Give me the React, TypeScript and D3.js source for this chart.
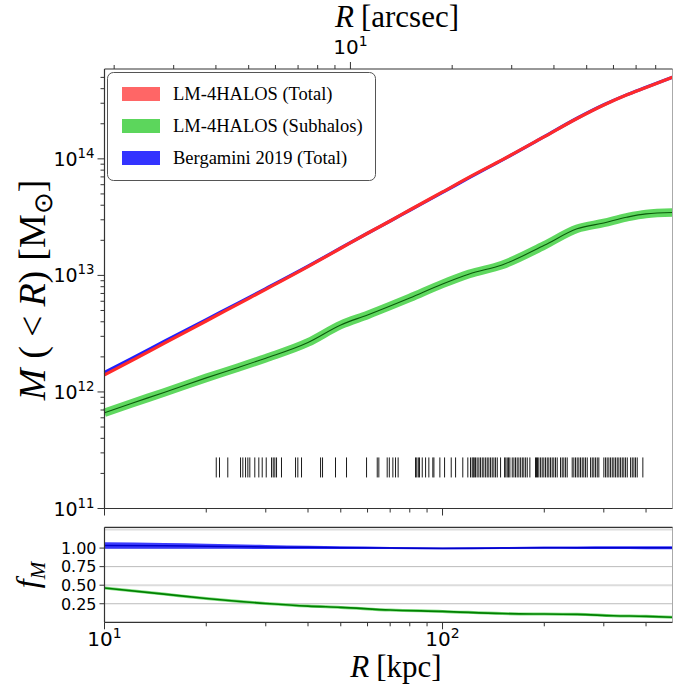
import React from 'react';
import * as d3 from 'd3';

// ---------- data ----------
const R_KPC = [10, 12, 15, 20, 25, 30, 40, 50, 60, 70, 80, 100, 120, 150, 200, 250, 300, 350, 400, 479];
const M_TOTAL = [1.40e12, 1.85e12, 2.61e12, 4.06e12, 5.73e12, 7.59e12, 1.19e13, 1.71e13, 2.30e13, 2.93e13, 3.64e13, 5.20e13, 6.97e13, 9.80e13, 1.55e14, 2.22e14, 2.90e14, 3.53e14, 4.10e14, 5.02e14];
const M_BERGAMINI = [1.47e12, 1.93e12, 2.71e12, 4.18e12, 5.84e12, 7.70e12, 1.20e13, 1.72e13, 2.30e13, 2.93e13, 3.62e13, 5.15e13, 6.90e13, 9.75e13, 1.55e14, 2.23e14, 2.91e14, 3.54e14, 4.11e14, 5.02e14];
const M_SUB = [6.64e11, 7.96e11, 9.91e11, 1.32e12, 1.63e12, 1.95e12, 2.66e12, 3.76e12, 4.58e12, 5.47e12, 6.41e12, 8.45e12, 1.03e13, 1.23e13, 1.81e13, 2.51e13, 2.82e13, 3.15e13, 3.37e13, 3.46e13];

const F_R = [10, 15, 20, 30, 40, 50, 70, 100, 150, 200, 250, 320, 400, 479];
const F_BERG = [1.035, 1.03, 1.025, 1.015, 1.01, 1.005, 1.0, 0.995, 1.0, 1.005, 1.005, 1.005, 1.005, 1.005];
const F_BERG_ERR = [0.045, 0.04, 0.035, 0.028, 0.022, 0.018, 0.014, 0.012, 0.013, 0.015, 0.017, 0.018, 0.02, 0.02];
const F_SUB = [0.463, 0.38, 0.321, 0.254, 0.218, 0.201, 0.165, 0.147, 0.118, 0.111, 0.107, 0.088, 0.08, 0.067];

const RUG_R = [21.41, 21.89, 23.16, 25.26, 25.66, 26.14, 26.55, 26.91, 27.84, 28.61, 29.28, 30.09, 31.2, 31.56, 31.91, 32.28, 33.39, 36.74, 37.32, 38.27, 43.57, 44.16, 48.24, 52.0, 59.6, 64.1, 64.8, 68.6, 69.6, 71.3, 72.6, 73.9, 83.2, 83.9, 84.8, 85.5, 87.1, 89.1, 91.1, 93.6,
  94.3, 98.2, 101.4, 106.1, 109.3, 114.8, 118.8, 121.0, 122.4, 123.3, 124.1, 125.2, 126.6, 128.1, 129.5, 131.1, 132.5, 134.1, 135.6, 137.1, 138.7, 140.3, 141.9, 143.5, 145.2, 148.5, 152.6, 153.9, 155.4, 156.8, 158.2, 160.8, 162.6, 164.4, 166.3, 168.2, 170.2, 172.2, 174.0, 176.1, 178.1, 181.3, 188.4, 189.7, 191.0, 192.7, 195.0, 197.2, 199.4, 201.7, 204.1, 206.3, 208.7, 211.1, 213.4, 215.9, 218.4, 223.4, 226.0, 228.5, 231.2, 233.8, 241.9, 244.6, 247.4, 250.3, 253.1, 256.0, 259.0, 261.8, 264.9, 268.0, 274.1, 277.3, 280.3, 283.6, 286.9, 290.0, 300.1, 303.6, 307.0, 310.5, 314.1, 317.8, 321.3, 325.0, 328.8, 332.4, 336.3, 340.2, 343.9, 347.9, 352.0, 360.0, 364.2, 368.3, 372.4, 376.7, 391.4];
const RUG_M = 2.25e11;

const F_GRID = [0.25, 0.5, 0.75, 1.0, 1.25];
const F_TICKS = [0.25, 0.5, 0.75, 1.0];
const KPC_PER_ARCSEC = 5.34;

const LEGEND = [
  { label: 'LM-4HALOS (Total)', color: '#ff6666' },
  { label: 'LM-4HALOS (Subhalos)', color: '#5cd65c' },
  { label: 'Bergamini 2019 (Total)', color: '#3333ff' },
];

// ---------- layout ----------
const W = 673, H = 684;
const L = 104.5, RGT = 672.5;
const T1 = 69, B1 = 508.5;
const T2 = 527.3, B2 = 622.3;

const TICK_FONT = 'DejaVu Sans, sans-serif';
const SERIF = 'Liberation Serif, Times New Roman, serif';

export default function App() {
  const x = d3.scaleLog().domain([10, 479]).range([L, RGT]);
  const xTop = d3.scaleLog().domain([10 / KPC_PER_ARCSEC, 479 / KPC_PER_ARCSEC]).range([L, RGT]);
  const y = d3.scaleLog().domain([1e11, 5.9e14]).range([B1, T1]);
  const yf = d3.scaleLinear().domain([0, 1.28]).range([B2, T2]);

  const isMajor = (v: number) => Math.abs(Math.log10(v) - Math.round(Math.log10(v))) < 1e-9;

  const lineMain = (arr: number[]) =>
    d3.line<number>().x((_, i) => x(R_KPC[i])).y((d) => y(d)).curve(d3.curveMonotoneX)(arr) || '';
  const lineF = (arr: number[]) =>
    d3.line<number>().x((_, i) => x(F_R[i])).y((d) => yf(d)).curve(d3.curveMonotoneX)(arr) || '';
  const areaBerg = d3.area<number>()
    .x((_, i) => x(F_R[i]))
    .y0((d, i) => yf(d - F_BERG_ERR[i]))
    .y1((d, i) => yf(d + F_BERG_ERR[i]))
    .curve(d3.curveMonotoneX)(F_BERG) || '';

  const xTicks = x.ticks();
  const yTicks = y.ticks();
  const topTicks = xTop.ticks();
  const axisColor = '#333';

  const supLabel = (base: string, exp: string, size: number) => (
    <>
      <tspan>{base}</tspan>
      <tspan dy={-size * 0.42} fontSize={size * 0.7}>{exp}</tspan>
    </>
  );

  return (
    <svg width={W} height={H} style={{ position: 'absolute', left: 0, top: 0, background: '#fff' }}>
      <rect x={0} y={0} width={W} height={H} fill="#fff" />

      {/* ===== main panel ===== */}
      {RUG_R.map((r, i) => (
        <line key={'rug' + i} x1={x(r)} x2={x(r)} y1={y(RUG_M) - 10} y2={y(RUG_M) + 10} stroke="#000" strokeWidth={0.9} />
      ))}
      <path d={lineMain(M_SUB)} fill="none" stroke="#5fd85f" strokeWidth={8.5} />
      <path d={lineMain(M_SUB)} fill="none" stroke="#0a5a0a" strokeWidth={1.1} />
      <path d={lineMain(M_BERGAMINI)} fill="none" stroke="#2020ff" strokeWidth={3.2} />
      <path d={lineMain(M_TOTAL)} fill="none" stroke="#ff2a2a" strokeWidth={3.2} />

      <line x1={RGT} x2={RGT} y1={T1} y2={B1} stroke="#aaa" strokeWidth={1} />
      <line x1={L} x2={RGT} y1={T1} y2={T1} stroke={axisColor} strokeWidth={1.2} />
      <line x1={L} x2={RGT} y1={B1} y2={B1} stroke={axisColor} strokeWidth={1.2} />
      <line x1={L} x2={L} y1={T1} y2={B1} stroke={axisColor} strokeWidth={1.2} />

      {yTicks.map((t, i) => {
        const maj = isMajor(t);
        return <line key={'yt' + i} x1={L} x2={L - (maj ? 7 : 4)} y1={y(t)} y2={y(t)} stroke={axisColor} strokeWidth={1} />;
      })}
      {yTicks.filter(isMajor).map((t, i) => (
        <text key={'yl' + i} x={L - 10} y={y(t) + 7} textAnchor="end" fontFamily={TICK_FONT} fontSize={19}>
          {supLabel('10', String(Math.round(Math.log10(t))), 19)}
        </text>
      ))}
      {xTicks.map((t, i) => {
        const maj = isMajor(t);
        return <line key={'xb' + i} x1={x(t)} x2={x(t)} y1={B1} y2={B1 + (maj ? 7 : 4)} stroke={axisColor} strokeWidth={1} />;
      })}
      {topTicks.map((t, i) => {
        const maj = isMajor(t);
        return <line key={'xt' + i} x1={xTop(t)} x2={xTop(t)} y1={T1} y2={T1 - (maj ? 7 : 4)} stroke={axisColor} strokeWidth={1} />;
      })}
      {topTicks.filter(isMajor).map((t, i) => (
        <text key={'xtl' + i} x={xTop(t)} y={T1 - 15} textAnchor="middle" fontFamily={TICK_FONT} fontSize={20}>
          {supLabel('10', String(Math.round(Math.log10(t))), 20)}
        </text>
      ))}
      <text x={397} y={27} textAnchor="middle" fontFamily={SERIF} fontSize={31}>
        <tspan fontStyle="italic">R</tspan>
        <tspan dx={7}>[arcsec]</tspan>
      </text>

      <text transform="translate(45,290) rotate(-90)" textAnchor="middle" fontFamily={SERIF} fontSize={38}>
        <tspan fontStyle="italic">M</tspan>
        <tspan dx={10}>(</tspan>
        <tspan dx={9}>&lt;</tspan>
        <tspan dx={9} fontStyle="italic">R</tspan>
        <tspan>)</tspan>
        <tspan dx={10}>[M</tspan>
        <tspan dy={7} fontSize={26}>⊙</tspan>
        <tspan dy={-7}>]</tspan>
      </text>

      <rect x={107.5} y={72.5} width={268} height={108} rx={6} fill="#fff" stroke="#555" strokeWidth={1} />
      {LEGEND.map((d, i) => (
        <g key={'lg' + i}>
          <rect x={122} y={87 + i * 32} width={38} height={14} fill={d.color} />
          <text x={173} y={94 + i * 32} dy="0.35em" fontFamily={SERIF} fontSize={18.5}>{d.label}</text>
        </g>
      ))}

      {/* ===== ratio panel ===== */}
      {F_GRID.map((g, i) => (
        <line key={'fg' + i} x1={L} x2={RGT} y1={yf(g)} y2={yf(g)}
          stroke={g === 0.25 || g === 0.75 ? '#bbbbbb' : '#dcdcdc'} strokeWidth={g === 0.25 || g === 0.75 ? 1 : 2} />
      ))}
      <path d={areaBerg} fill="#1a1aff" fillOpacity={0.85} />
      <path d={lineF(F_BERG)} fill="none" stroke="#0000c8" strokeWidth={1.5} />
      <path d={lineF(F_SUB)} fill="none" stroke="#7ddc7d" strokeWidth={3} />
      <path d={lineF(F_SUB)} fill="none" stroke="#008000" strokeWidth={1.6} />

      <line x1={RGT} x2={RGT} y1={T2} y2={B2} stroke="#aaa" strokeWidth={1} />
      <line x1={L} x2={RGT} y1={T2} y2={T2} stroke={axisColor} strokeWidth={1.2} />
      <line x1={L} x2={RGT} y1={B2} y2={B2} stroke={axisColor} strokeWidth={1.2} />
      <line x1={L} x2={L} y1={T2} y2={B2} stroke={axisColor} strokeWidth={1.2} />

      {F_TICKS.map((t, i) => (
        <g key={'ft' + i}>
          <line x1={L} x2={L - 5} y1={yf(t)} y2={yf(t)} stroke={axisColor} strokeWidth={1} />
          <text x={L - 8} y={yf(t)} dy="0.36em" textAnchor="end" fontFamily={TICK_FONT} fontSize={16}>{t.toFixed(2)}</text>
        </g>
      ))}
      {xTicks.map((t, i) => {
        const maj = isMajor(t);
        return <line key={'xb2' + i} x1={x(t)} x2={x(t)} y1={B2} y2={B2 + (maj ? 7 : 4)} stroke={axisColor} strokeWidth={1} />;
      })}
      {xTicks.filter(isMajor).map((t, i) => (
        <text key={'xbl' + i} x={x(t)} y={B2 + 24} textAnchor="middle" fontFamily={TICK_FONT} fontSize={20}>
          {supLabel('10', String(Math.round(Math.log10(t))), 20)}
        </text>
      ))}
      <text x={396} y={677} textAnchor="middle" fontFamily={SERIF} fontSize={31}>
        <tspan fontStyle="italic">R</tspan>
        <tspan dx={7}>[kpc]</tspan>
      </text>
      <text transform="translate(38,575) rotate(-90)" textAnchor="middle" fontFamily={SERIF} fontSize={32}>
        <tspan fontStyle="italic">f</tspan>
        <tspan dy={7} fontSize={21} fontStyle="italic">M</tspan>
      </text>
    </svg>
  );
}
